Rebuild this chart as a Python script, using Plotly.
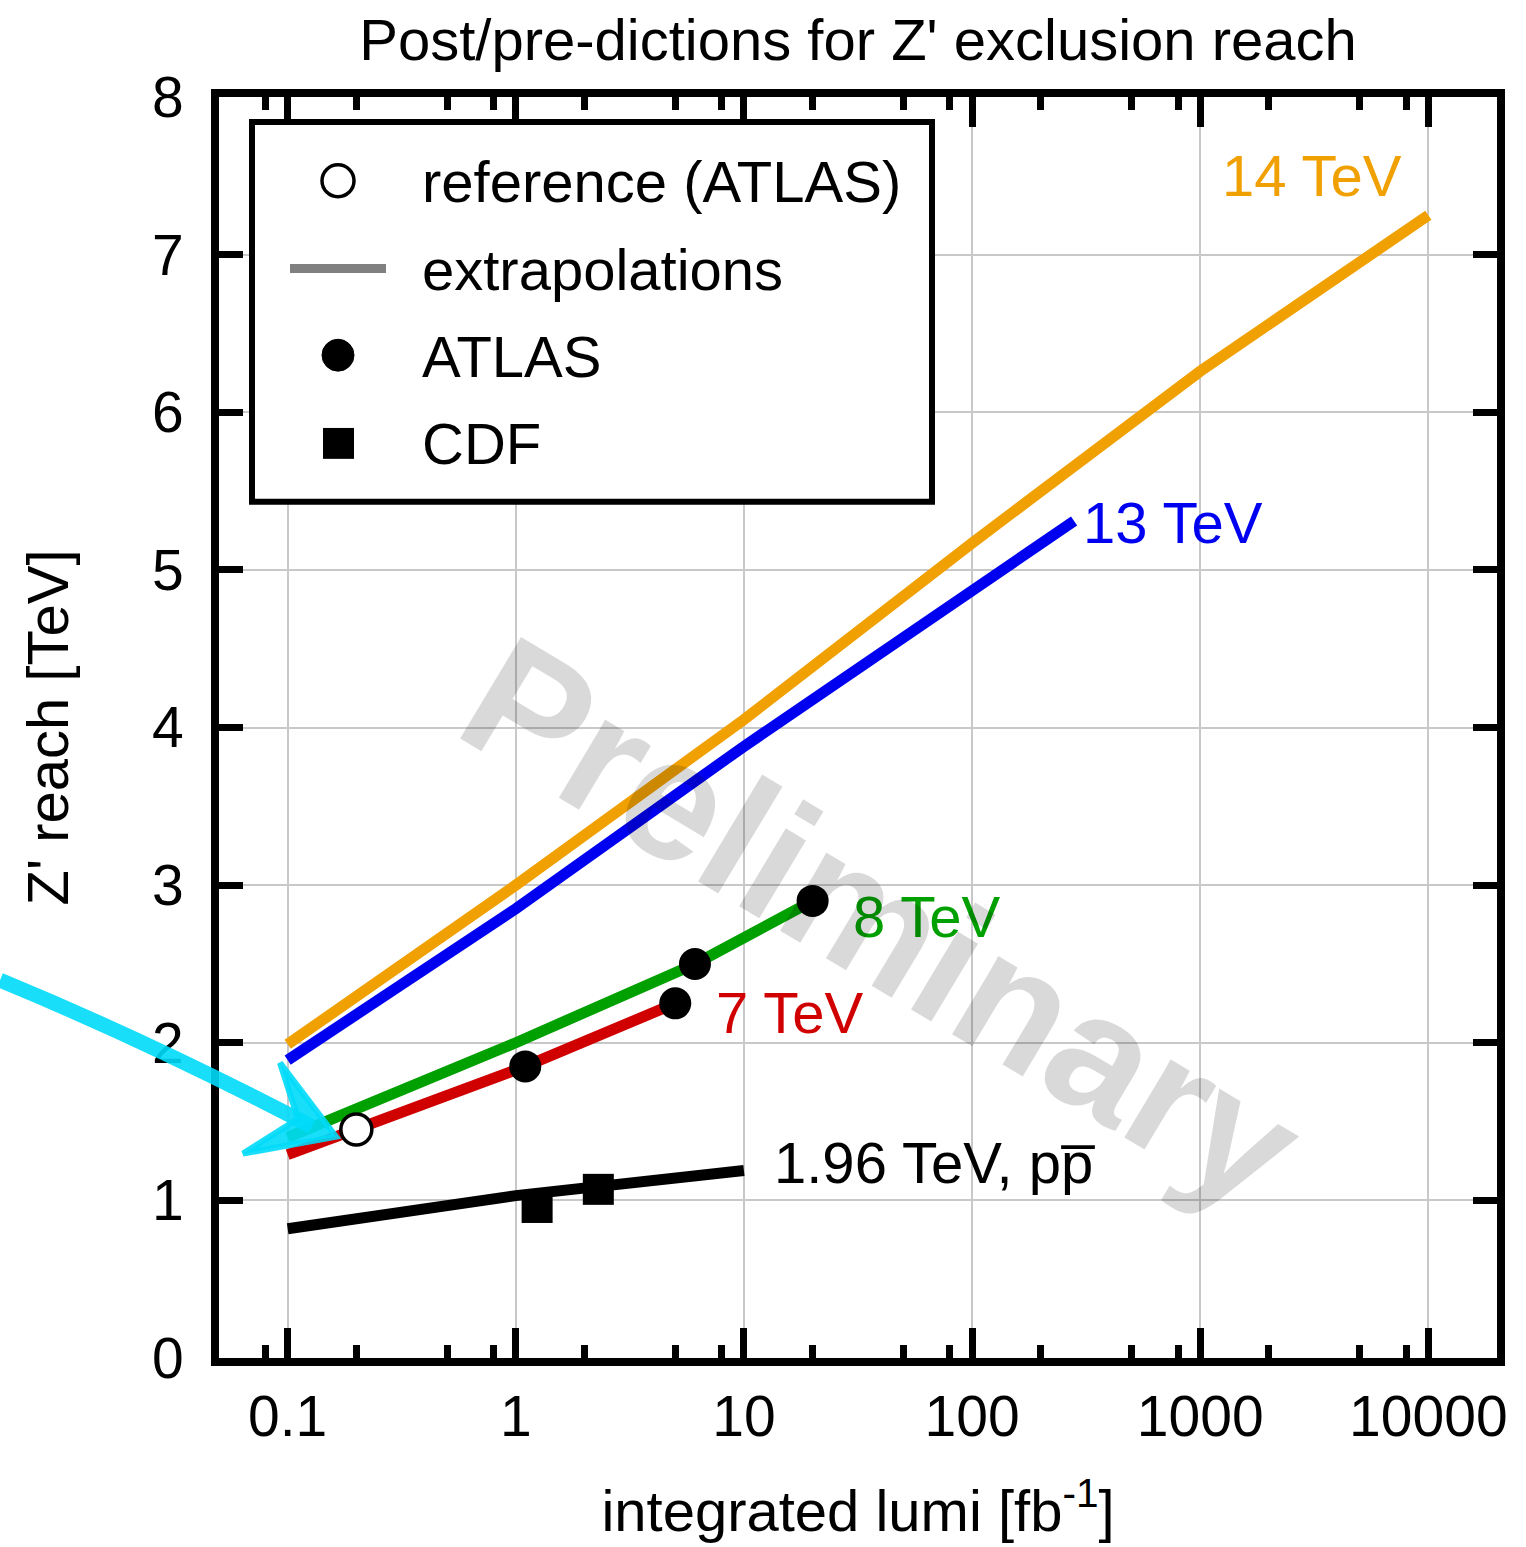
import plotly.graph_objects as go

# ---------------- data ----------------
lumi_196 = [0.1, 1, 10]
reach_196 = [0.82, 1.03, 1.19]

cdf_lumi = [1.24, 2.3]
cdf_reach = [0.955, 1.07]

lumi_7 = [0.1, 0.2, 1.1, 5.0]
reach_7 = [1.29, 1.45, 1.85, 2.25]

lumi_8 = [0.1, 1, 6.1, 20]
reach_8 = [1.40, 2.0, 2.5, 2.9]

lumi_13 = [0.1, 1, 10, 100, 280]
reach_13 = [1.89, 2.85, 3.88, 4.88, 5.31]

lumi_14 = [0.1, 1, 10, 100, 1000, 10000]
reach_14 = [1.99, 3.0, 4.05, 5.17, 6.26, 7.25]

atlas_lumi = [1.1, 5.0, 6.1, 20]
atlas_reach = [1.85, 2.25, 2.5, 2.9]

ref_lumi = [0.2]
ref_reach = [1.45]

x_tickvals = [0.1, 1, 10, 100, 1000, 10000]
x_ticktext = ["0.1", "1", "10", "100", "1000", "10000"]
x_minor = [m * 10 ** e for e in range(-2, 4) for m in (2, 5, 8) if 0.05 < m * 10 ** e < 20000]

# ---------------- layout helpers (pixel -> paper) ----------------
W, H = 1526, 1547
L_, R_, T_, B_ = 219, 1497, 97, 1362
def PX(px):
    return (px - L_) / (R_ - L_)
def PY(py):
    return (B_ - py) / (B_ - T_)

FONT = "Liberation Sans, Arial, Helvetica, sans-serif"
ORANGE = "#f0a000"
BLUE = "#0000f0"
GREEN = "#00a000"
RED = "#d00000"

fig = go.Figure()

def line(x, y, color):
    fig.add_trace(go.Scatter(x=x, y=y, mode="lines", line=dict(color=color, width=11),
                             showlegend=False, hoverinfo="skip"))

line(lumi_14, reach_14, ORANGE)
line(lumi_13, reach_13, BLUE)
line(lumi_196, reach_196, "black")
line(lumi_7, reach_7, RED)
line(lumi_8, reach_8, GREEN)

fig.add_trace(go.Scatter(x=cdf_lumi, y=cdf_reach, mode="markers",
                         marker=dict(symbol="square", size=31, color="black"),
                         showlegend=False))
fig.add_trace(go.Scatter(x=atlas_lumi, y=atlas_reach, mode="markers",
                         marker=dict(symbol="circle", size=32, color="black"),
                         showlegend=False))
fig.add_trace(go.Scatter(x=ref_lumi, y=ref_reach, mode="markers",
                         marker=dict(symbol="circle", size=31, color="white",
                                     line=dict(color="black", width=3.5)),
                         showlegend=False))

annotations = []
def label(text, left_px, cy_px, color, size=58):
    annotations.append(dict(text=text, xref="paper", yref="paper", x=PX(left_px), y=PY(cy_px),
                            xanchor="left", yanchor="middle", showarrow=False,
                            font=dict(family=FONT, size=size, color=color)))

label("14 TeV", 1220, 176, ORANGE)
label("13 TeV", 1081, 524, BLUE)
label("8 TeV", 851, 919, GREEN)
label("7 TeV", 714, 1015, RED)
label("1.96 TeV, pp\u0305", 772, 1166, "black")

# legend (drawn manually)
label("reference (ATLAS)", 420, 182, "black")
label("extrapolations", 420, 270, "black")
label("ATLAS", 420, 357, "black")
label("CDF", 420, 445, "black")

# watermark
annotations.append(dict(text="<b>Preliminary</b>", xref="paper", yref="paper",
                        x=PX(882), y=PY(925), xanchor="center", yanchor="middle",
                        showarrow=False, textangle=31,
                        font=dict(family=FONT, size=172, color="rgba(0,0,0,0.15)")))

shapes = []
# legend box
shapes.append(dict(type="rect", xref="paper", yref="paper", x0=PX(252), x1=PX(932),
                   y0=PY(503), y1=PY(122), line=dict(color="black", width=6),
                   fillcolor="white", layer="above"))
# legend symbols
shapes.append(dict(type="circle", xref="paper", yref="paper", x0=PX(322), x1=PX(354),
                   y0=PY(197), y1=PY(165), line=dict(color="black", width=3.5),
                   fillcolor="white", layer="above"))
shapes.append(dict(type="line", xref="paper", yref="paper", x0=PX(290), x1=PX(386),
                   y0=PY(269), y1=PY(269), line=dict(color="#808080", width=9), layer="above"))
shapes.append(dict(type="circle", xref="paper", yref="paper", x0=PX(322), x1=PX(354),
                   y0=PY(372), y1=PY(340), line=dict(color="black", width=1),
                   fillcolor="black", layer="above"))
shapes.append(dict(type="rect", xref="paper", yref="paper", x0=PX(323), x1=PX(354),
                   y0=PY(460), y1=PY(429), line=dict(color="black", width=0),
                   fillcolor="black", layer="above"))

# hand-drawn cyan arrow
CYAN = "rgba(0,218,248,0.9)"
body = "M {},{} Q {},{} {},{}".format(PX(0), PY(983), PX(150), PY(1045), PX(312), PY(1130))
shapes.append(dict(type="path", xref="paper", yref="paper", path=body,
                   line=dict(color=CYAN, width=15), layer="above"))
head = "M {},{} L {},{} L {},{} L {},{} Z".format(PX(280), PY(1066), PX(336), PY(1140),
                                                  PX(243), PY(1157), PX(298), PY(1122))
shapes.append(dict(type="path", xref="paper", yref="paper", path=head,
                   line=dict(color=CYAN, width=6), fillcolor=CYAN, layer="above"))

fig.update_layout(
    width=W, height=H,
    margin=dict(l=L_, r=W - R_, t=T_, b=H - B_, pad=0),
    paper_bgcolor="white", plot_bgcolor="white",
    font=dict(family=FONT, size=58, color="black"),
    title=dict(text="Post/pre-dictions for Z' exclusion reach", x=0.5, xref="paper",
               xanchor="center", y=1 - 40 / H, yref="container", yanchor="middle",
               font=dict(family=FONT, size=58, color="black")),
    annotations=annotations,
    shapes=shapes,
    showlegend=False,
)

fig.update_xaxes(
    type="log", range=[-1.30103, 4.30103],
    tickmode="array", tickvals=x_tickvals, ticktext=x_ticktext,
    ticks="inside", ticklen=30, tickwidth=7, tickcolor="black",
    showline=True, linewidth=8, linecolor="black", mirror="ticks",
    showgrid=True, gridcolor="#c8c8c8", gridwidth=2, zeroline=False,
    tickfont=dict(family=FONT, size=57, color="black"),
    ticklabelstandoff=2,
    minor=dict(tickmode="array", tickvals=x_minor, ticks="inside", ticklen=13,
               tickwidth=7, tickcolor="black", showgrid=False),
    title=dict(text="integrated lumi [fb<sup>-1</sup>]", font=dict(family=FONT, size=58),
               standoff=46),
)
fig.update_yaxes(
    range=[0, 8], tickmode="linear", tick0=0, dtick=1,
    ticks="inside", ticklen=24, tickwidth=7, tickcolor="black",
    showline=True, linewidth=8, linecolor="black", mirror="ticks",
    showgrid=True, gridcolor="#c8c8c8", gridwidth=2, zeroline=False,
    tickfont=dict(family=FONT, size=57, color="black"),
    ticklabelstandoff=16,
    title=dict(text="Z' reach [TeV]", font=dict(family=FONT, size=58), standoff=68),
)

fig.write_html("out.html")
